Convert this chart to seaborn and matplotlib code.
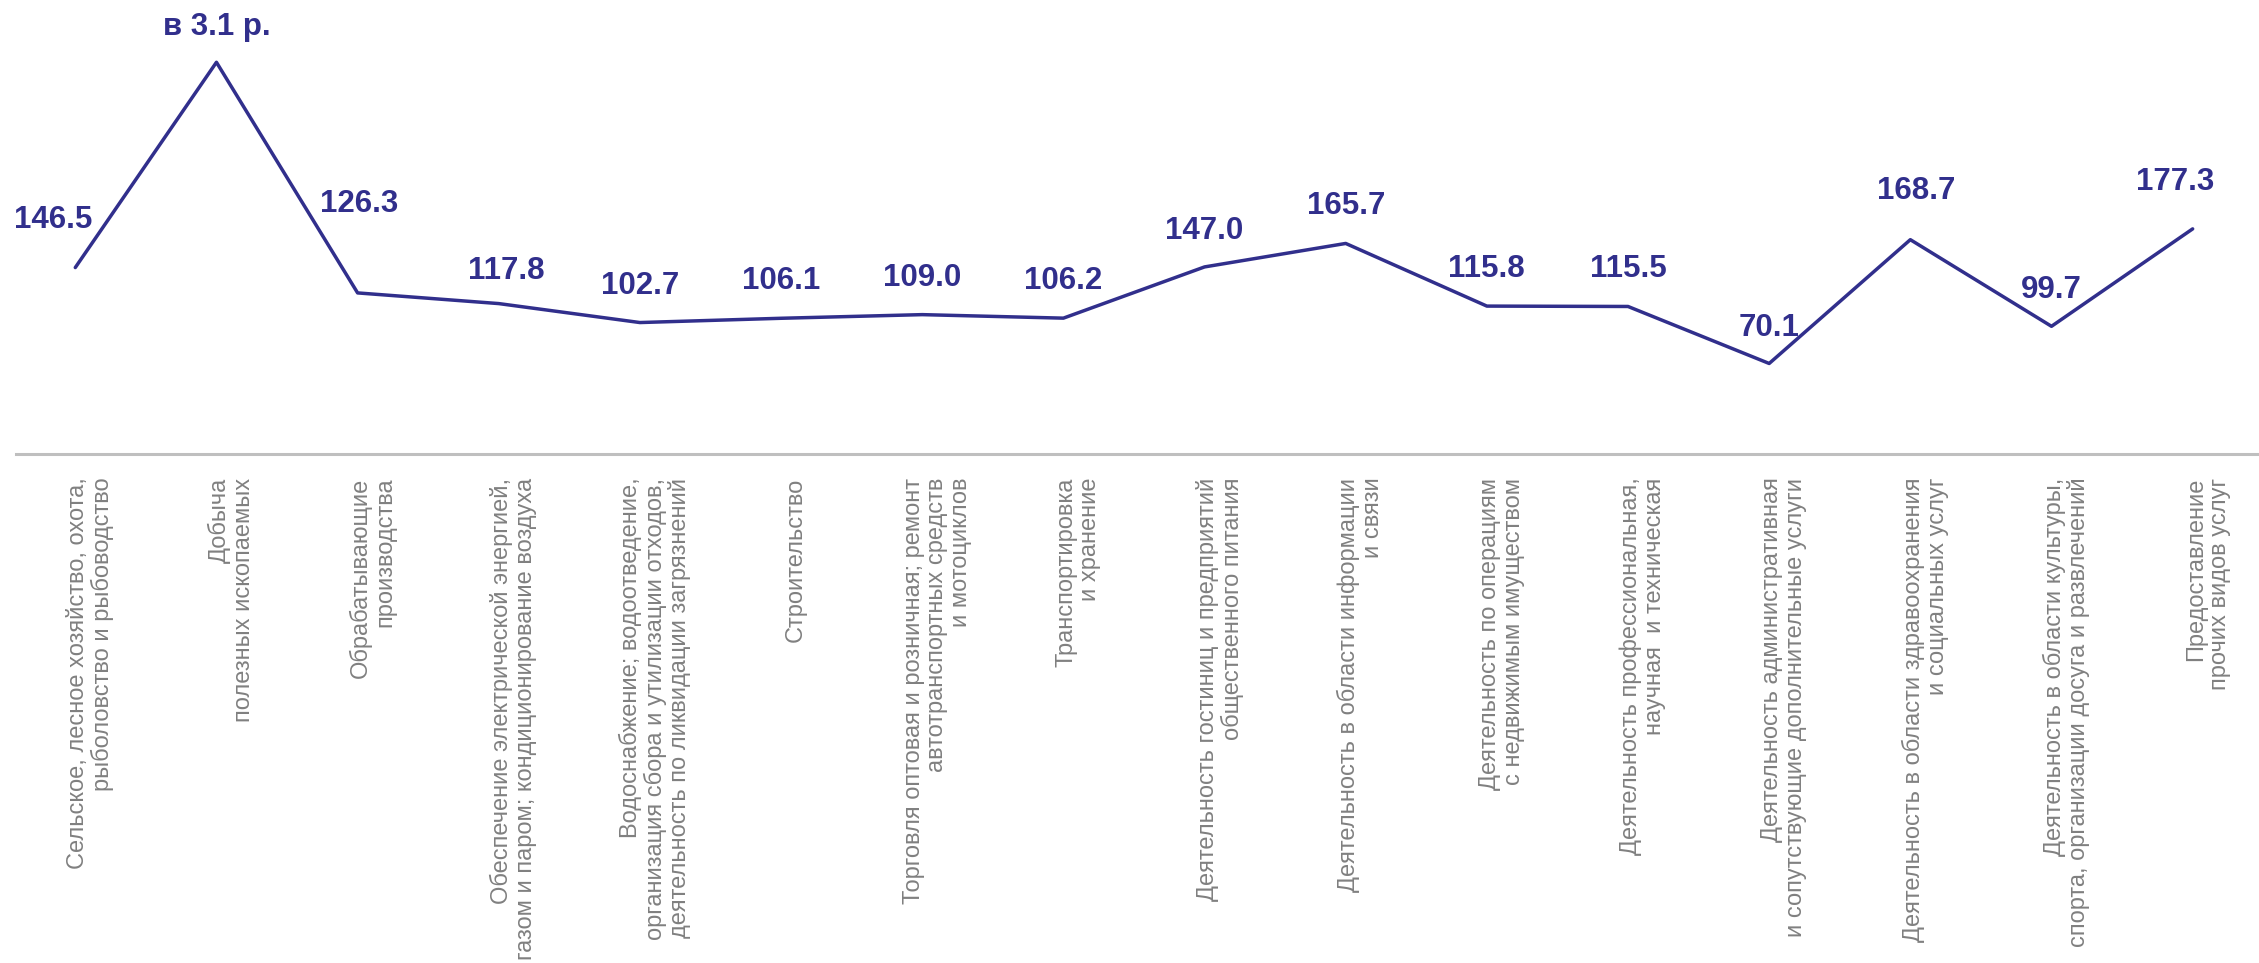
import numpy as np
import pandas as pd
import matplotlib
matplotlib.use("Agg")
import matplotlib.pyplot as plt
import matplotlib.transforms as mtransforms
import seaborn as sns

# отрасли (подписи оси X, с переносами как в оригинале)
categories = [
    "Сельское, лесное хозяйство, охота,\nрыболовство и рыбоводство",
    "Добыча\nполезных ископаемых",
    "Обрабатывающие\nпроизводства",
    "Обеспечение электрической энергией,\nгазом и паром; кондиционирование воздуха",
    "Водоснабжение; водоотведение,\nорганизация сбора и утилизации отходов,\nдеятельность по ликвидации загрязнений",
    "Строительство",
    "Торговля оптовая и розничная; ремонт\nавтотранспортных средств\nи мотоциклов",
    "Транспортировка\nи хранение",
    "Деятельность гостиниц и предприятий\nобщественного питания",
    "Деятельность в области информации\nи связи",
    "Деятельность по операциям\nс недвижимым имуществом",
    "Деятельность профессиональная,\nнаучная  и техническая",
    "Деятельность административная\nи сопутствующие дополнительные услуги",
    "Деятельность в области здравоохранения\nи социальных услуг",
    "Деятельность в области культуры,\nспорта, организации досуга и развлечений",
    "Предоставление\nпрочих видов услуг",
]

values = [146.5, 310.0, 126.3, 117.8, 102.7, 106.1, 109.0, 106.2,
          147.0, 165.7, 115.8, 115.5, 70.1, 168.7, 99.7, 177.3]

value_labels = ["146.5", "в 3.1 р.", "126.3", "117.8", "102.7", "106.1", "109.0", "106.2",
                "147.0", "165.7", "115.8", "115.5", "70.1", "168.7", "99.7", "177.3"]

# смещения подписей значений (в пикселях) относительно точки
label_dx = [-22, 0, 2, 8, 0, 0, 0, 0, 0, 0, 0, 0, 0, 6, 0, -18]
label_dy = [48, 35, 89, 33, 37, 37, 37, 37, 36, 37, 37, 37, 35, 49, 36, 47]

line_color = "#312F8C"
grey = "#808080"

df = pd.DataFrame({"Отрасль": categories, "Значение": values})

sns.set_theme(style="white")
plt.rcParams["font.family"] = ["Liberation Sans", "DejaVu Sans"]

fig = plt.figure(figsize=(22.59, 9.63), dpi=100)
ax = fig.add_axes([16 / 2259, 1 - 454 / 963, 1 - 16 / 2259, 452 / 963])

sns.lineplot(data=df, x="Отрасль", y="Значение", sort=False, ax=ax,
             color=line_color, linewidth=2.5)

ax.set_xlim(-0.42, 15.47)
ax.set_ylim(-2, 358)
ax.set_xlabel("")
ax.set_ylabel("")
ax.set_yticks([])

for s in ["top", "left", "right"]:
    ax.spines[s].set_visible(False)
ax.spines["bottom"].set_color("#BFBFBF")
ax.spines["bottom"].set_linewidth(2.2)

ax.tick_params(axis="x", length=0, pad=17)
ax.set_xticks(range(len(categories)))
ax.set_xticklabels(categories, rotation=90, ha="center", va="top",
                   fontsize=17, color=grey, linespacing=1.1,
                   multialignment="right")
shift = mtransforms.ScaledTranslation(15 / 100, 0, fig.dpi_scale_trans)
for lbl in ax.get_xticklabels():
    lbl.set_transform(lbl.get_transform() + shift)

for i, (v, t) in enumerate(zip(values, value_labels)):
    ax.annotate(t, xy=(i, v), xytext=(label_dx[i], label_dy[i]),
                textcoords="offset pixels", ha="center", va="center",
                fontsize=22.5, fontweight="bold", color=line_color)

fig.savefig("out.png", dpi=100, facecolor="white")
